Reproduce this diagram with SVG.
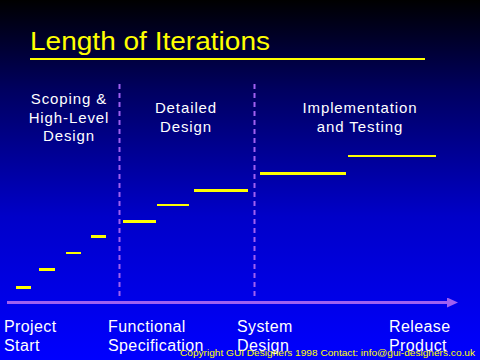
<svg xmlns="http://www.w3.org/2000/svg" width="480" height="360" viewBox="0 0 480 360">
<defs>
<linearGradient id="bg" x1="0" y1="0" x2="0" y2="1">
<stop offset="0" stop-color="#000000"/>
<stop offset="0.25" stop-color="#000060"/>
<stop offset="0.6" stop-color="#0000C8"/>
<stop offset="1" stop-color="#0000FF"/>
</linearGradient>
<marker id="arr" markerWidth="11" markerHeight="10" refX="0" refY="5" orient="auto" markerUnits="userSpaceOnUse">
<path d="M0,0 L11,5 L0,10 Z" fill="#A060F0"/>
</marker>
<style>
.lbl{font-family:"Liberation Sans",Arial,sans-serif;fill:#FFFFFF;font-size:15px;text-anchor:middle;letter-spacing:0.9px}
.ms{font-family:"Liberation Sans",Arial,sans-serif;fill:#FFFFFF;font-size:16px;letter-spacing:0.4px}
.bar{fill:#FFFF00}
.dash{stroke:#A060F0;stroke-width:2;stroke-dasharray:5 4;fill:none}
</style>
</defs>
<rect x="0" y="0" width="480" height="360" fill="url(#bg)"/>
<g id="title">
<text x="30" y="50" font-family="'Liberation Sans',Arial,sans-serif" font-size="26" fill="#FFFF00" textLength="240" lengthAdjust="spacingAndGlyphs">Length of Iterations</text>
<rect x="30" y="58" width="395" height="2" fill="#FFFF00"/>
</g>
<g id="connectors">
<line class="dash" x1="119.5" y1="84" x2="119.5" y2="300"/>
<line class="dash" x1="254.5" y1="84" x2="254.5" y2="300"/>
<line x1="7" y1="302.5" x2="447" y2="302.5" stroke="#A060F0" stroke-width="3" marker-end="url(#arr)"/>
</g>
<g id="phase-scoping">
<text class="lbl" x="69" y="104">Scoping &amp;</text>
<text class="lbl" x="69" y="123">High-Level</text>
<text class="lbl" x="69" y="141">Design</text>
</g>
<g id="phase-detailed">
<text class="lbl" x="186" y="113">Detailed</text>
<text class="lbl" x="186" y="132">Design</text>
</g>
<g id="phase-impl">
<text class="lbl" x="360" y="113">Implementation</text>
<text class="lbl" x="360" y="132">and Testing</text>
</g>
<g id="iterations">
<rect class="bar" x="16" y="286" width="15" height="3"/>
<rect class="bar" x="39" y="268" width="16" height="3"/>
<rect class="bar" x="66" y="252" width="15" height="2"/>
<rect class="bar" x="91" y="235" width="15" height="3"/>
<rect class="bar" x="123" y="220" width="33" height="3"/>
<rect class="bar" x="157" y="204" width="32" height="2"/>
<rect class="bar" x="194" y="189" width="54" height="3"/>
<rect class="bar" x="260" y="172" width="86" height="3"/>
<rect class="bar" x="348" y="155" width="88" height="2"/>
</g>
<g id="milestone-start">
<text class="ms" x="4" y="332">Project</text>
<text class="ms" x="4" y="351">Start</text>
</g>
<g id="milestone-functional">
<text class="ms" x="108" y="332">Functional</text>
<text class="ms" x="108" y="351">Specification</text>
</g>
<g id="milestone-system">
<text class="ms" x="237" y="332">System</text>
<text class="ms" x="237" y="351">Design</text>
</g>
<g id="milestone-release">
<text class="ms" x="389" y="332">Release</text>
<text class="ms" x="389" y="351">Product</text>
</g>
<text x="180" y="356" font-family="'Liberation Sans',Arial,sans-serif" font-size="9" fill="#FFFF00" textLength="295" lengthAdjust="spacingAndGlyphs">Copyright GUI Designers 1998  Contact:  info@gui-designers.co.uk</text>
</svg>
